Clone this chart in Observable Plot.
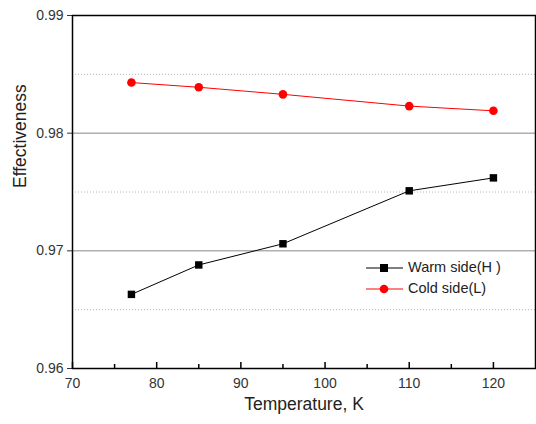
<!DOCTYPE html>
<html>
<head>
<meta charset="utf-8">
<script src="https://cdn.jsdelivr.net/npm/d3@7"></script>
<script src="https://cdn.jsdelivr.net/npm/@observablehq/plot@0.6"></script>
<style>
  html, body { margin: 0; padding: 0; background: #fff; }
  #chart { position: relative; width: 536px; height: 424px; font-family: "Liberation Sans", Arial, sans-serif; }
  #legend { position: absolute; left: 366px; top: 257px; font-size: 14.5px; color: #222; line-height: 21px; }
  #legend div { display: flex; align-items: center; }
  #legend svg { margin-right: 5px; }
</style>
</head>
<body>
<div id="chart"></div>
<script>
// Heat exchanger effectiveness vs. temperature
const temperatures = [77, 85, 95, 110, 120];
const warmSide = [0.9663, 0.9688, 0.9706, 0.9751, 0.9762];
const coldSide = [0.9843, 0.9839, 0.9833, 0.9823, 0.9819];
const seriesNames = ["Warm side(H )", "Cold side(L)"];
const seriesColors = ["#000000", "#ff0000"];
const xTicks = [70, 80, 90, 100, 110, 120];
const xMinorTicks = [75, 85, 95, 105, 115];
const yTicks = [0.96, 0.97, 0.98, 0.99];
const solidGrid = [0.97, 0.98];
const dottedGrid = [0.965, 0.975, 0.985];
const xTitle = "Temperature, K";
const yTitle = "Effectiveness";

const warm = temperatures.map((t, i) => ({t, v: warmSide[i]}));
const cold = temperatures.map((t, i) => ({t, v: coldSide[i]}));

const W = 536, H = 424, mTop = 15, mBottom = 56;
const innerH = H - mTop - mBottom;
const yDomain = [0.96, 0.99];
// convert a pixel length along y into data units, for the inward tick marks
const pxY = px => (yDomain[1] - yDomain[0]) * px / innerH;

const chart = Plot.plot({
  width: W,
  height: H,
  marginLeft: 72,
  marginRight: 1,
  marginTop: mTop,
  marginBottom: mBottom,
  style: {fontFamily: "Liberation Sans, Arial, sans-serif", fontSize: "14px", color: "#333", background: "#fff"},
  x: {domain: [70, 125]},
  y: {domain: yDomain},
  marks: [
    Plot.ruleY(dottedGrid, {stroke: "#b8b8b8", strokeDasharray: "1,2"}),
    Plot.ruleY(solidGrid, {stroke: "#888"}),
    // y axis: outward ticks and labels
    Plot.axisY({ticks: yTicks, tickSize: 5, tickPadding: 4, tickFormat: d3.format(".2f"), label: null, fontSize: 14}),
    // x axis labels
    Plot.axisX({ticks: xTicks, tickSize: 0, tickPadding: 10, tickFormat: d => String(d), label: null, fontSize: 14}),
    // inward x ticks, major and minor, rising from the bottom edge
    Plot.ruleX(xTicks, {x: d => d, y1: yDomain[0], y2: yDomain[0] + pxY(6), stroke: "#000", strokeWidth: 1.5}),
    Plot.ruleX(xMinorTicks, {x: d => d, y1: yDomain[0], y2: yDomain[0] + pxY(4), stroke: "#000", strokeWidth: 1.5}),
    // axis titles
    Plot.text([xTitle], {text: d => d, frameAnchor: "bottom", dy: 41, fontSize: 17.5, fill: "#222"}),
    Plot.text([yTitle], {text: d => d, frameAnchor: "left", dx: -52, dy: -4, rotate: -90, fontSize: 17.5, fill: "#222"}),
    Plot.frame({stroke: "#000", strokeWidth: 1.5}),
    Plot.line(warm, {x: "t", y: "v", stroke: seriesColors[0], strokeWidth: 1}),
    Plot.dot(warm, {x: "t", y: "v", symbol: "square", r: 4.2, fill: seriesColors[0]}),
    Plot.line(cold, {x: "t", y: "v", stroke: seriesColors[1], strokeWidth: 1}),
    Plot.dot(cold, {x: "t", y: "v", symbol: "circle", r: 4.3, fill: seriesColors[1]})
  ]
});

const root = document.getElementById("chart");
root.appendChild(chart);

// legend
const legend = document.createElement("div");
legend.id = "legend";
seriesNames.forEach((name, i) => {
  const row = document.createElement("div");
  const shape = i === 0
    ? `<rect x="14" y="4" width="8" height="8" fill="${seriesColors[i]}"/>`
    : `<circle cx="18" cy="8" r="4.3" fill="${seriesColors[i]}"/>`;
  row.innerHTML = `<svg width="37" height="16"><line x1="0" x2="37" y1="8" y2="8" stroke="${seriesColors[i]}" stroke-width="1"/>${shape}</svg><span>${name}</span>`;
  legend.appendChild(row);
});
root.appendChild(legend);
</script>
</body>
</html>
